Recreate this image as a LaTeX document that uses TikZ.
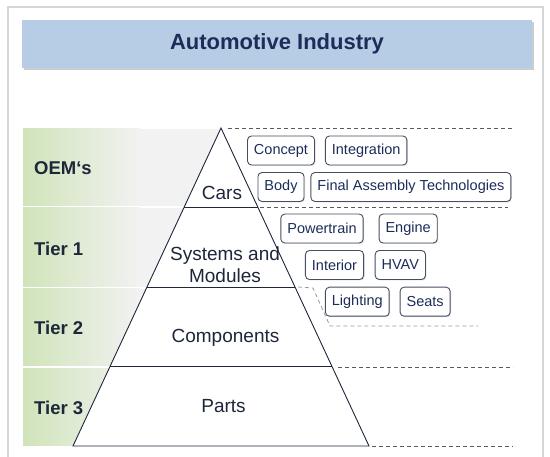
\documentclass[tikz,border=0pt]{standalone}
\usepackage{fontspec}
\setmainfont{Liberation Sans}
\usetikzlibrary{calc,positioning,shadows}
\definecolor{autonavy}{RGB}{28,45,90}
\definecolor{autoblue}{RGB}{183,205,229}
\definecolor{autogreen}{RGB}{208,228,186}
\definecolor{autogray}{RGB}{242,242,242}
\definecolor{autoframe}{RGB}{214,214,214}
\definecolor{autoline}{RGB}{30,38,58}
\definecolor{autobox}{RGB}{70,78,96}

\begin{document}
\begin{tikzpicture}[x=1pt,y=-1pt,
    tier/.style={font=\fontsize{18.5}{20}\selectfont\bfseries,text=autoline,anchor=base west,inner sep=0pt},
    band/.style={left color=autogreen,right color=autogray},
    level/.style={font=\fontsize{19}{22}\selectfont,text=autoline,align=center,anchor=base,inner sep=0pt},
    part/.style={draw=autobox,line width=0.9pt,rounded corners=4pt,fill=white,text=autonavy,
      font=\fontsize{14.5}{16}\selectfont,minimum height=29pt,inner xsep=6.5pt,
      drop shadow={shadow xshift=1pt,shadow yshift=-1pt,opacity=.25}},
    sep/.style={draw=black!65,line width=0.8pt,dash pattern=on 4pt off 3pt}]
  \useasboundingbox (0,0) rectangle (550,457);
  % frame and title
  \draw[autoframe,line width=1.5pt] (8,457) -- (8,7) -- (543,7) -- (543,457);
  \node[fill=autoblue,minimum width=510pt,minimum height=48pt,text=autonavy,
    font=\fontsize{22}{24}\selectfont\bfseries,
    drop shadow={shadow xshift=2pt,shadow yshift=-2pt,opacity=.4}] (title) at (277,44) {Automotive Industry};
  % tier bands
  \foreach \ya/\yb in {129/206,208/287,289/366,369/446} {
    \path[band] (23,\ya) rectangle (140,\yb);
    \fill[autogray] (139.5,\ya) rectangle (221,\yb);
  }
  \node[tier] (oem) at (34,175) {OEM‘s};
  \node[tier] (t1) at (34,256) {Tier 1};
  \node[tier] (t2) at (34,335) {Tier 2};
  \node[tier] (t3) at (34,415) {Tier 3};
  % pyramid
  \coordinate (apex) at (221,128);
  \coordinate (bl) at (73,446);
  \coordinate (br) at (369,446);
  \draw[autoline,line width=0.9pt,fill=white] (apex) -- (bl) -- (br) -- cycle;
  \foreach \t in {.25,.5,.75}
    \draw[autoline,line width=0.9pt] ($(apex)!\t!(bl)$) -- ($(apex)!\t!(br)$);
  \node[level] (cars) at (222,200) {Cars};
  \node[level] (sys) at (225,283) {Systems and\\Modules};
  \node[level] (comp) at (225.5,343) {Components};
  \node[level] (parts) at (223.5,413) {Parts};
  % dashed separators
  \draw[sep] (228,128) -- (513,128);
  \draw[sep] (260,207) -- (508,207);
  \draw[sep,draw=black!40] (298,287) -- (313,288) -- (330,326) -- (478,326);
  \draw[sep] (338,367) -- (513,367);
  \draw[sep] (372,446) -- (513,446);
  % boxes
  \node[part] (concept) at (281,150.5) {Concept};
  \node[part,right=10pt of concept] (integ) {Integration};
  \node[part] (body) at (281,187) {Body};
  \node[part,right=6pt of body] (fat) {Final Assembly Technologies};
  \node[part] (power) at (322,228.5) {Powertrain};
  \node[part,right=15pt of power] (engine) {Engine};
  \node[part] (inter) at (334.5,265) {Interior};
  \node[part,right=10.7pt of inter] (hvav) {HVAV};
  \node[part] (light) at (357.3,301.7) {Lighting};
  \node[part,right=10pt of light] (seats) {Seats};
\end{tikzpicture}
\end{document}
